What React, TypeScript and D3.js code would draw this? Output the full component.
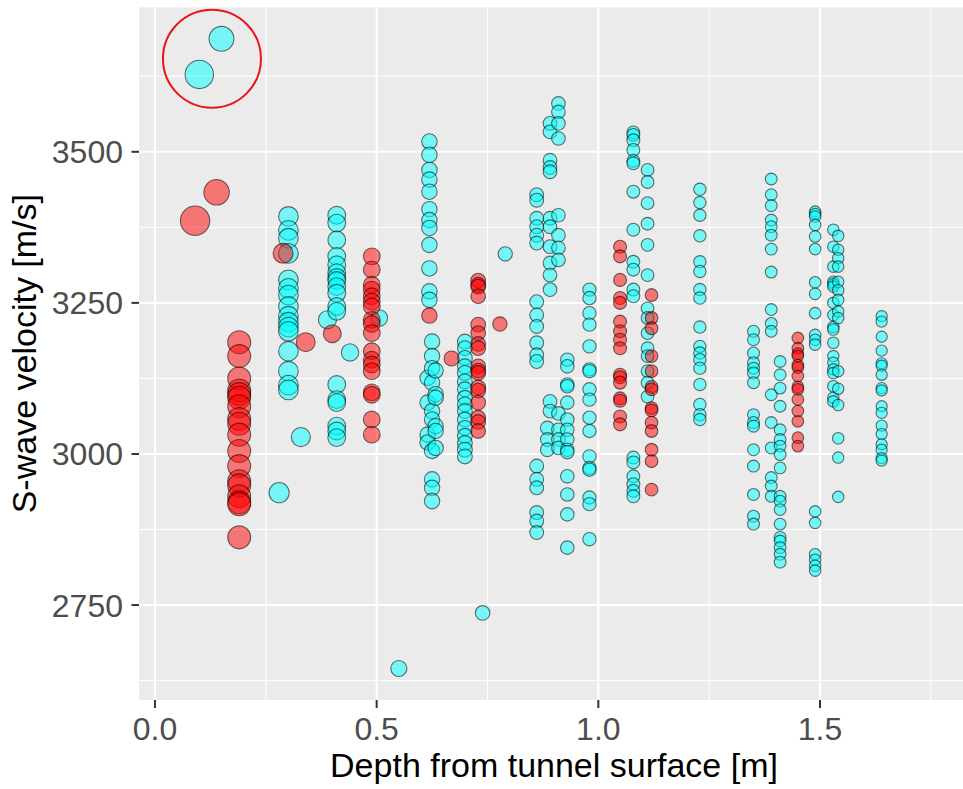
import React from "react";
import * as d3 from "d3";

// ---- axes ----
const X_LIMITS = [0, 1.8];
const X_TICKS = [0, 0.5, 1.0, 1.5];
const X_TICK_LABELS = ["0.0", "0.5", "1.0", "1.5"];
const X_MINOR = [0.25, 0.75, 1.25, 1.75];
const Y_TICKS = [2750, 3000, 3250, 3500];
const Y_TICK_LABELS = ["2750", "3000", "3250", "3500"];
const Y_MINOR = [2625, 2875, 3125, 3375, 3625];
const X_TITLE = "Depth from tunnel surface [m]";
const Y_TITLE = "S-wave velocity [m/s]";

// ---- data: [depth (m), S-wave velocities (m/s)] ----
const CYAN_COLUMNS: [number, number[]][] = [
  [0.100, [3628]],
  [0.150, [3687]],
  [0.280, [2936]],
  [0.301, [3393, 3370, 3357, 3332, 3288, 3274, 3263, 3244, 3228, 3218, 3210, 3203, 3170, 3137, 3114, 3106]],
  [0.329, [3028]],
  [0.389, [3222]],
  [0.410, [3395, 3382, 3354, 3327, 3313, 3300, 3292, 3287, 3277, 3266, 3244, 3236, 3115, 3090, 3085, 3046, 3038, 3027]],
  [0.440, [3168]],
  [0.506, [3225]],
  [0.550, [2645]],
  [0.619, [3517, 3495, 3470, 3454, 3434, 3405, 3387, 3374, 3346, 3307, 3269, 3255]],
  [0.615, [3126, 3085, 3032, 3019]],
  [0.625, [3186, 3162, 3142, 3118, 3071, 3057, 3005, 2958, 2944, 2922]],
  [0.633, [3138, 3099, 3093, 3046, 3038, 3010]],
  [0.699, [3186, 3175, 3159, 3145, 3134, 3120, 3107, 3093, 3082, 3071, 3057, 3043, 3030, 3018, 3007, 2996]],
  [0.739, [2737]],
  [0.790, [3331]],
  [0.861, [3429, 3420, 3390, 3376, 3362, 3349, 3252, 3230, 3211, 3184, 3164, 3153, 2980, 2958, 2944, 2903, 2889, 2870]],
  [0.891, [3547, 3533, 3486, 3474, 3467, 3390, 3376, 3343, 3316, 3296, 3272, 3087, 3071]],
  [0.885, [3043, 3024, 3007]],
  [0.910, [3580, 3566, 3547, 3522, 3395, 3362, 3341, 3321, 3067, 3040, 3024, 3010]],
  [0.930, [3156, 3145, 3115, 3112, 3085, 3057, 3040, 3024, 3007, 3003, 2963, 2933, 2900, 2845]],
  [0.980, [3272, 3258, 3233, 3214, 3178, 3140, 3137, 3107, 3090, 3060, 3038, 2996, 2977, 2974, 2928, 2917, 2859]],
  [1.079, [3532, 3528, 3519, 3503, 3485, 3481, 3434, 3371, 3318, 3305, 3272, 3261, 2994, 2986, 2963, 2950, 2939, 2930]],
  [1.111, [3470, 3450, 3415, 3381, 3346, 3296, 3241, 3225, 3200, 3175, 3162, 3137, 3118, 3095]],
  [1.229, [3438, 3416, 3395, 3361, 3318, 3302, 3272, 3258, 3210, 3178, 3167, 3156, 3142, 3115, 3082, 3065, 3057]],
  [1.350, [3203, 3189, 3167, 3151, 3142, 3134, 3118, 3065, 3052, 3046, 3007, 2980, 2933, 2897, 2884]],
  [1.390, [3455, 3429, 3411, 3387, 3376, 3362, 3339, 3301, 3239, 3216, 3203, 3098, 3052, 3010, 2961, 2947, 2930]],
  [1.410, [3153, 3131, 3109, 3079, 3040, 3024, 3013, 2999, 2977, 2930, 2922, 2908, 2884, 2862, 2856, 2845, 2834, 2821]],
  [1.489, [3401, 3397, 3393, 3379, 3360, 3339, 3284, 3265, 3233, 3197, 3189, 3181, 2905, 2886, 2834, 2825, 2815, 2807]],
  [1.530, [3371, 3343, 3310, 3285, 3281, 3277, 3250, 3230, 3210, 3206, 3184, 3162, 3151, 3140, 3134, 3112, 3093, 3087]],
  [1.541, [3361, 3338, 3324, 3310, 3285, 3271, 3255, 3236, 3225, 3137, 3108, 3081, 3026, 2994, 2929]],
  [1.639, [3228, 3219, 3194, 3171, 3150, 3146, 3131, 3109, 3105, 3079, 3068, 3047, 3033, 3016, 3007, 2993, 2989]],
];

const RED_COLUMNS: [number, number[]][] = [
  [0.0905, [3386]],
  [0.139, [3433]],
  [0.190, [3185, 3162, 3125, 3105, 3099, 3093, 3079, 3058, 3050, 3032, 3005, 2980, 2955, 2948, 2930, 2920, 2917, 2862]],
  [0.289, [3332]],
  [0.340, [3185]],
  [0.400, [3199]],
  [0.489, [3327, 3305, 3280, 3272, 3261, 3252, 3244, 3222, 3215, 3200, 3170, 3156, 3148, 3137, 3102, 3098, 3057, 3032]],
  [0.619, [3229]],
  [0.669, [3158]],
  [0.729, [3287, 3280, 3277, 3261, 3214, 3200, 3182, 3175, 3145, 3138, 3134, 3110, 3105, 3085, 3060, 3053, 3038]],
  [0.778, [3215]],
  [1.049, [3343, 3327, 3288, 3258, 3250, 3219, 3203, 3189, 3175, 3131, 3127, 3118, 3092, 3088, 3062, 3049]],
  [1.120, [3263, 3225, 3208, 3162, 3137, 3111, 3107, 3076, 3072, 3052, 3038, 3007, 2988, 2941]],
  [1.450, [3192, 3175, 3166, 3162, 3147, 3143, 3129, 3111, 3107, 3090, 3071, 3054, 3027, 3013]],
];

// highlighted outliers (annotation centre, data units)
const HIGHLIGHT_DEPTH = 0.1286;
const HIGHLIGHT_VELOCITY = 3654;

const W = 963;
const H = 789;
const PANEL = { left: 139, right: 969, top: 7.3, bottom: 700 };
const FONT = "'Liberation Sans', Arial, Helvetica, sans-serif";

type Pt = { d: number; v: number; grp: string };

function flatten(cols: [number, number[]][], grp: string): Pt[] {
  const out: Pt[] = [];
  cols.forEach(([d, vs]) => vs.forEach((v) => out.push({ d, v, grp })));
  return out;
}

export default function App() {
  const cyan = flatten(CYAN_COLUMNS, "cyan");
  const red = flatten(RED_COLUMNS, "red");
  const all = [...cyan, ...red];

  const xSpan = X_LIMITS[1] - X_LIMITS[0];
  const x = d3
    .scaleLinear()
    .domain([X_LIMITS[0] - 0.02 * xSpan, X_LIMITS[1] + 0.02 * xSpan])
    .range([PANEL.left, PANEL.right]);

  const [vmin, vmax] = d3.extent(all, (p) => p.v) as [number, number];
  const vpad = 0.05 * (vmax - vmin);
  const y = d3
    .scaleLinear()
    .domain([vmin - vpad, vmax + vpad])
    .range([PANEL.bottom, PANEL.top]);

  const r = d3.scalePow().exponent(-0.33).domain([0.09, 1.64]).range([14.7, 5.6]);

  const colorOf = (g: string) => (g === "cyan" ? "#00FFFF" : "#FF0000");

  const tickFont = 32;
  const titleFont = 34;

  return (
    <svg
      width={W}
      height={H}
      style={{ position: "absolute", left: 0, top: 0, background: "#fff" }}
    >
      <defs>
        <clipPath id="panelClip">
          <rect
            x={PANEL.left}
            y={PANEL.top}
            width={PANEL.right - PANEL.left}
            height={PANEL.bottom - PANEL.top}
          />
        </clipPath>
      </defs>
      <rect
        x={PANEL.left}
        y={PANEL.top}
        width={PANEL.right - PANEL.left}
        height={PANEL.bottom - PANEL.top}
        fill="#EBEBEB"
      />
      {/* minor grid */}
      {X_MINOR.map((t) => (
        <line key={"xm" + t} x1={x(t)} x2={x(t)} y1={PANEL.top} y2={PANEL.bottom} stroke="#fff" strokeWidth={1} />
      ))}
      {Y_MINOR.map((t) => (
        <line key={"ym" + t} x1={PANEL.left} x2={PANEL.right} y1={y(t)} y2={y(t)} stroke="#fff" strokeWidth={1} />
      ))}
      {/* major grid */}
      {X_TICKS.map((t) => (
        <line key={"xM" + t} x1={x(t)} x2={x(t)} y1={PANEL.top} y2={PANEL.bottom} stroke="#fff" strokeWidth={2} />
      ))}
      {Y_TICKS.map((t) => (
        <line key={"yM" + t} x1={PANEL.left} x2={PANEL.right} y1={y(t)} y2={y(t)} stroke="#fff" strokeWidth={2} />
      ))}

      <g clipPath="url(#panelClip)">
        {all.map((p, i) => (
          <circle
            key={i}
            cx={x(p.d)}
            cy={y(p.v)}
            r={r(p.d)}
            fill={colorOf(p.grp)}
            fillOpacity={0.5}
            stroke="#000"
            strokeOpacity={0.55}
            strokeWidth={1.1}
          />
        ))}
        <circle
          cx={x(HIGHLIGHT_DEPTH)}
          cy={y(HIGHLIGHT_VELOCITY)}
          r={49}
          fill="none"
          stroke="#E8141B"
          strokeWidth={2}
        />
      </g>

      {/* axis ticks */}
      {Y_TICKS.map((t, i) => (
        <g key={"yt" + t}>
          <line x1={PANEL.left - 7.5} x2={PANEL.left} y1={y(t)} y2={y(t)} stroke="#333" strokeWidth={2} />
          <text
            x={PANEL.left - 16}
            y={y(t) + tickFont * 0.36}
            textAnchor="end"
            fontFamily={FONT}
            fontSize={tickFont}
            fill="#4D4D4D"
          >
            {Y_TICK_LABELS[i]}
          </text>
        </g>
      ))}
      {X_TICKS.map((t, i) => (
        <g key={"xt" + t}>
          <line x1={x(t)} x2={x(t)} y1={PANEL.bottom} y2={PANEL.bottom + 8} stroke="#333" strokeWidth={2} />
          <text
            x={x(t)}
            y={740}
            textAnchor="middle"
            fontFamily={FONT}
            fontSize={tickFont}
            fill="#4D4D4D"
          >
            {X_TICK_LABELS[i]}
          </text>
        </g>
      ))}

      {/* titles */}
      <text
        x={(PANEL.left + PANEL.right) / 2}
        y={777}
        textAnchor="middle"
        fontFamily={FONT}
        fontSize={titleFont}
        fill="#000"
      >
        {X_TITLE}
      </text>
      <text
        transform={`translate(36, ${(PANEL.top + PANEL.bottom) / 2}) rotate(-90)`}
        textAnchor="middle"
        fontFamily={FONT}
        fontSize={titleFont}
        fill="#000"
      >
        {Y_TITLE}
      </text>
    </svg>
  );
}
